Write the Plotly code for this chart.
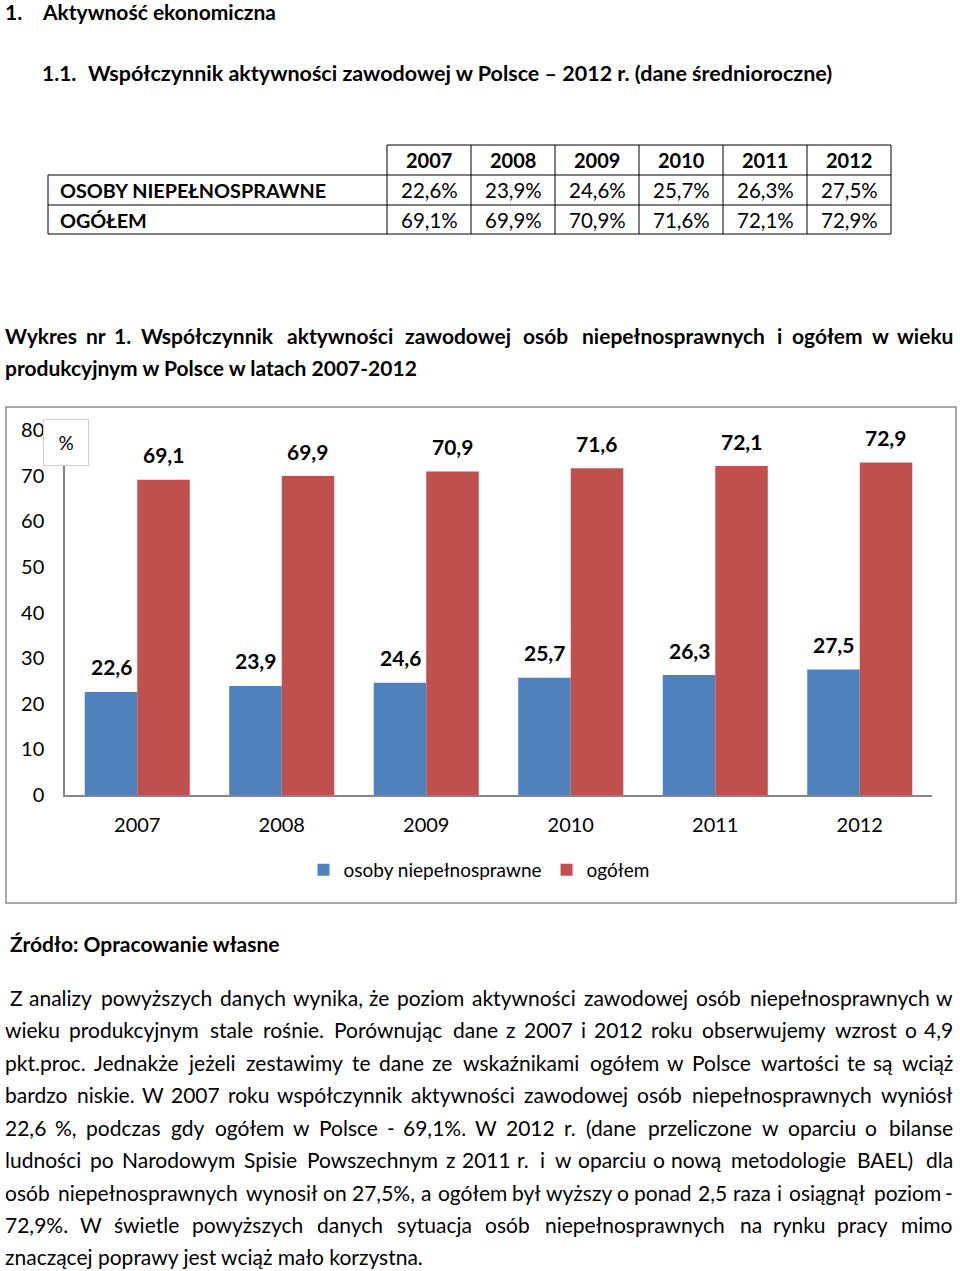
import plotly.graph_objects as go

# ---------------- data ----------------
years = ["2007", "2008", "2009", "2010", "2011", "2012"]
disabled = [22.6, 23.9, 24.6, 25.7, 26.3, 27.5]
total = [69.1, 69.9, 70.9, 71.6, 72.1, 72.9]
y_ticks = [0, 10, 20, 30, 40, 50, 60, 70, 80]
series_names = ["osoby niepełnosprawne", "ogółem"]
row_labels = ["OSOBY NIEPEŁNOSPRAWNE", "OGÓŁEM"]

heading1 = ("1.", "Aktywność ekonomiczna")
heading2 = ("1.1.", "Współczynnik aktywności zawodowej w Polsce – 2012 r. (dane średnioroczne)")
chart_title = ["Wykres nr 1. Współczynnik aktywności zawodowej osób niepełnosprawnych i ogółem w wieku",
               "produkcyjnym w Polsce w latach 2007-2012"]
source = "Źródło: Opracowanie własne"
paragraph = [
    "Z analizy powyższych danych wynika, że poziom aktywności zawodowej osób niepełnosprawnych w",
    "wieku produkcyjnym stale rośnie. Porównując dane z 2007 i 2012 roku obserwujemy wzrost o 4,9",
    "pkt.proc. Jednakże jeżeli zestawimy te dane ze wskaźnikami ogółem w Polsce wartości te są wciąż",
    "bardzo niskie. W 2007 roku współczynnik aktywności zawodowej osób niepełnosprawnych wyniósł",
    "22,6 %, podczas gdy ogółem w Polsce - 69,1%. W 2012 r. (dane przeliczone w oparciu o bilanse",
    "ludności po Narodowym Spisie Powszechnym z 2011 r.  i  w oparciu o nową metodologie BAEL)  dla",
    "osób niepełnosprawnych wynosił on 27,5%, a ogółem był wyższy o ponad 2,5 raza i osiągnął poziom -",
    "72,9%. W świetle powyższych danych sytuacja osób niepełnosprawnych na rynku pracy mimo",
    "znaczącej poprawy jest wciąż mało korzystna.",
]

# ---------------- styles ----------------
W, H = 960, 1271
FONT = "Lato"
BLUE = "#4F81BD"
RED = "#C0504D"
AXIS = "#868686"
TEXT_SIZE = 21

# approximate glyph advance widths (em) used to spread words of justified lines
_CW = {}
for ch in "iljíłI|!'": _CW[ch] = 0.26
for ch in "ftr": _CW[ch] = 0.34
for ch in ".,:;": _CW[ch] = 0.21
for ch in "()-–": _CW[ch] = 0.32
for ch in "csz ćśźż": _CW[ch] = 0.45
for ch in "kvxy": _CW[ch] = 0.48
for ch in "aąeę": _CW[ch] = 0.52
for ch in "bdghnopquńó": _CW[ch] = 0.56
for ch in "0123456789": _CW[ch] = 0.58
_CW.update({"m": 0.83, "w": 0.73, "W": 1.0, "M": 0.9, "%": 0.80, " ": 0.20, "P": 0.60, "B": 0.64,
            "A": 0.68, "E": 0.56, "L": 0.50, "Z": 0.60, "J": 0.38, "N": 0.76, "O": 0.78, "S": 0.54,
            "R": 0.62, "D": 0.74, "T": 0.57, "Ź": 0.60, "Ó": 0.78, "Ł": 0.50})
CAL = 1.05


def text_w(s, size, bold=False):
    return sum(_CW.get(c, 0.62 if c.isupper() else 0.53) for c in s) * size * CAL * (1.04 if bold else 1.0)


def px(x):
    return x / W


def py(y):
    return 1 - y / H


def fmt(v):
    return f"{v:.1f}".replace(".", ",")


annotations = []
shapes = []


def label(text, x, y, size, bold=False, anchor="left", **kw):
    annotations.append(dict(x=px(x), y=py(y), xref="paper", yref="paper",
                            text=f"<b>{text}</b>" if bold else text, showarrow=False,
                            xanchor=anchor, yanchor="middle",
                            font=dict(family=FONT, size=size, color="black"), **kw))


def justified(line, x0, x1, y, size, bold=False):
    words = line.split(" ")
    widths = [text_w(w, size, bold) for w in words]
    n = len(words)
    gap = (x1 - x0 - sum(widths)) / (n - 1)
    x = x0
    for i, (w, wd) in enumerate(zip(words, widths)):
        if w:
            if i == 0:
                label(w, x0 - 1, y, size, bold, "left")
            elif i == n - 1:
                label(w, x1 + 1, y, size, bold, "right")
            else:
                label(w, x + wd / 2, y, size, bold, "center")
        x += wd + gap


fig = go.Figure()
fig.add_trace(go.Bar(x=years, y=disabled, name=series_names[0], marker_color=BLUE,
                     marker_line_width=0))
fig.add_trace(go.Bar(x=years, y=total, name=series_names[1], marker_color=RED,
                     marker_line_width=0))

# data labels above bars (category serial numbers on the x axis)
BAR_SHIFT = 26
for i in range(len(years)):
    for vals, sh in ((disabled, -BAR_SHIFT), (total, BAR_SHIFT)):
        annotations.append(dict(x=i, y=vals[i], xref="x", yref="y", text=f"<b>{fmt(vals[i])}</b>",
                                showarrow=False, xshift=sh, yshift=25, yanchor="middle",
                                font=dict(family=FONT, size=21, color="black")))

# "%" box
annotations.append(dict(x=px(66), y=py(442), xref="paper", yref="paper", text="%", showarrow=False,
                        font=dict(family=FONT, size=19, color="black"), bgcolor="white",
                        bordercolor="#D0D0D0", borderwidth=1, borderpad=0, width=44, height=45,
                        xanchor="center", yanchor="middle"))

# chart outer frame
shapes.append(dict(type="rect", xref="paper", yref="paper", x0=px(6), x1=px(956), y0=py(407), y1=py(903),
                   line=dict(color="#8C8C8C", width=1.5), fillcolor="rgba(0,0,0,0)", layer="below"))

# headings
label(heading1[0], 3, 12, TEXT_SIZE, True)
label(heading1[1], 40, 12, TEXT_SIZE, True)
label(heading2[0], 40, 73, TEXT_SIZE, True)
label(heading2[1], 86, 73, 21.5, True)

# table
col_edges = [48, 387, 471, 555, 639, 723, 807, 891]
row_edges = [145, 175, 205, 234]
LINE = dict(color="black", width=1)
shapes.append(dict(type="line", xref="paper", yref="paper", x0=px(col_edges[1]), x1=px(col_edges[-1]),
                   y0=py(row_edges[0]), y1=py(row_edges[0]), line=LINE))
for r in row_edges[1:]:
    shapes.append(dict(type="line", xref="paper", yref="paper", x0=px(col_edges[0]), x1=px(col_edges[-1]),
                       y0=py(r), y1=py(r), line=LINE))
shapes.append(dict(type="line", xref="paper", yref="paper", x0=px(col_edges[0]), x1=px(col_edges[0]),
                   y0=py(row_edges[1]), y1=py(row_edges[-1]), line=LINE))
for c in col_edges[1:]:
    shapes.append(dict(type="line", xref="paper", yref="paper", x0=px(c), x1=px(c),
                       y0=py(row_edges[0]), y1=py(row_edges[-1]), line=LINE))

for j, yr in enumerate(years):
    cx = (col_edges[j + 1] + col_edges[j + 2]) / 2
    cy = (row_edges[0] + row_edges[1]) / 2
    label(yr, cx, cy, 20, True, "center")
for r, (lab, vals) in enumerate(zip(row_labels, (disabled, total))):
    cy = (row_edges[r + 1] + row_edges[r + 2]) / 2
    label(lab, 58, cy, 19.8, True, "left")
    for j, v in enumerate(vals):
        cx = (col_edges[j + 1] + col_edges[j + 2]) / 2
        label(f"{fmt(v)}%", cx, cy, 20.5, False, "center")

# chart title
justified(chart_title[0], 4, 954, 335, TEXT_SIZE, True)
label(chart_title[1], 3, 367, TEXT_SIZE, True)

# source
label(source, 8, 943, TEXT_SIZE, True)

# paragraph
para_y = [997, 1029, 1062, 1094, 1127, 1159, 1192, 1224, 1256]
for k, (line, yc) in enumerate(zip(paragraph, para_y)):
    x0 = 9 if k == 0 else 4
    if k < len(paragraph) - 1:
        justified(line, x0, 954, yc, TEXT_SIZE)
    else:
        label(line, x0 - 1, yc, TEXT_SIZE)

fig.update_layout(
    width=W, height=H,
    margin=dict(l=0, r=0, t=0, b=0, autoexpand=False),
    paper_bgcolor="white", plot_bgcolor="white",
    barmode="group", bargap=0.273, bargroupgap=0,
    showlegend=True,
    legend=dict(orientation="h", x=px(479), y=py(870), xanchor="center", yanchor="middle",
                font=dict(family=FONT, size=19, color="black"), itemclick=False, itemdoubleclick=False),
    xaxis=dict(domain=[px(65), px(932)], type="category", range=[-0.5, len(years) - 0.5],
               autorange=False, automargin=False,
               showline=True, linecolor=AXIS, linewidth=1.5,
               ticks="", showgrid=False, zeroline=False, ticklabelstandoff=11,
               tickfont=dict(family=FONT, size=20, color="black")),
    yaxis=dict(domain=[py(795), py(430)], range=[0, 80], autorange=False, automargin=False,
               tickvals=y_ticks, showline=True, linecolor=AXIS,
               linewidth=1.5, ticks="", showgrid=False, zeroline=False, ticklabelstandoff=15,
               tickfont=dict(family=FONT, size=20, color="black")),
    annotations=annotations,
    shapes=shapes,
    font=dict(family=FONT),
)

fig.write_html("out.html", config={"displayModeBar": False},
               post_script="document.body.style.margin='0';document.body.style.overflow='hidden';")
